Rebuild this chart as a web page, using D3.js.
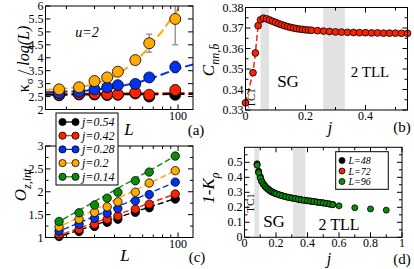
<!DOCTYPE html>
<html><head><meta charset="utf-8">
<script src="https://cdn.jsdelivr.net/npm/d3@7"></script>
<style>
body { margin: 0; background: #fff; }
text { font-family: "Liberation Serif", "Times New Roman", serif; }
</style>
</head><body><div id="container"></div>
<script>
// ---- data ----
var sizesL = [18, 24, 30, 36, 42, 54, 66, 96];

// panel (a): kappa_sigma / log(L)
var kappaBlack  = [2.55, 2.58, 2.58, 2.56, 2.57, 2.62, 2.50, 2.57];
var kappaRed    = [2.57, 2.60, 2.61, 2.59, 2.59, 2.66, 2.57, 2.75];
var kappaBlue   = [2.63, 2.68, 2.78, 2.86, 2.94, 2.99, 3.24, 3.64];
var kappaOrange = [2.78, 2.86, 3.10, 3.24, 3.46, 3.91, 4.56, 5.50];
var errBlack  = [0, 0, 0, 0, 0, 0, 0, 0.12];
var errRed    = [0, 0, 0, 0, 0, 0, 0, 0.2];
var errBlue   = [0, 0, 0, 0, 0, 0, 0.08, 0.22];
var errOrange = [0, 0, 0, 0, 0, 0.08, 0.35, 1.0];
// dashed fits in (a), as [L, value] pairs
var fitBlackA  = [[14.8, 2.57], [124, 2.6]];
var fitRedA    = [[14.8, 2.6], [124, 2.64]];
var fitBlueA   = [[14.8, 2.67], [18, 2.68], [24, 2.71], [30, 2.76], [36, 2.82], [42, 2.88], [54, 3.02], [66, 3.17], [80, 3.36], [96, 3.55], [124, 3.74]];
var fitOrangeA = [[14.8, 2.76], [18, 2.78], [24, 2.86], [30, 2.98], [36, 3.15], [42, 3.35], [54, 3.85], [66, 4.4], [80, 5.05], [96, 5.72], [112, 6.3]];

// panel (c): O_z,int
var ozBlack  = [1.02, 1.13, 1.24, 1.33, 1.40, 1.55, 1.65, 1.84];
var ozRed    = [1.05, 1.18, 1.29, 1.40, 1.47, 1.62, 1.73, 1.95];
var ozBlue   = [1.14, 1.29, 1.42, 1.53, 1.63, 1.80, 1.94, 2.21];
var ozOrange = [1.23, 1.40, 1.55, 1.67, 1.78, 1.99, 2.19, 2.46];
var ozGreen  = [1.35, 1.54, 1.71, 1.86, 1.99, 2.24, 2.43, 2.78];
var fitLimitsC = [17, 96];
var fitBlackC  = [0.99, 1.85];
var fitRedC    = [1.02, 1.95];
var fitBlueC   = [1.10, 2.21];
var fitOrangeC = [1.19, 2.46];
var fitGreenC  = [1.30, 2.78];
var legendJ = ["j=0.54", "j=0.42", "j=0.28", "j=0.2", "j=0.14"];

// panel (b): C_nn,b-bar vs j
var jB = [0, 0.025, 0.033, 0.042, 0.05, 0.06, 0.07, 0.08, 0.09, 0.10, 0.11, 0.12, 0.13, 0.14, 0.15, 0.16, 0.17, 0.18, 0.19, 0.20, 0.21, 0.22,
          0.24, 0.26, 0.28, 0.30, 0.32, 0.34, 0.36, 0.38, 0.40, 0.42, 0.44, 0.46, 0.48, 0.50, 0.52, 0.54];
var cB = [0.3335, 0.3482, 0.3578, 0.3711, 0.3740, 0.3748, 0.3745, 0.3739, 0.3733, 0.3727, 0.3721, 0.3716, 0.3711, 0.3707, 0.3703, 0.3700, 0.3697, 0.3695, 0.3693, 0.3691, 0.3690, 0.3689,
          0.3687, 0.3685, 0.3683, 0.3681, 0.3680, 0.3679, 0.3678, 0.3677, 0.3677, 0.3676, 0.3676, 0.3675, 0.3675, 0.3675, 0.3674, 0.3674];

// panel (d): 1-K_rho vs j
var jD = [0.08, 0.09, 0.10, 0.11, 0.12, 0.13, 0.14, 0.15, 0.16, 0.17, 0.18, 0.19, 0.20, 0.22, 0.24, 0.26, 0.28, 0.30, 0.32, 0.34,
          0.36, 0.38, 0.40, 0.42, 0.44, 0.46, 0.48, 0.50, 0.52, 0.54, 0.56, 0.6, 0.7, 0.8, 0.9];
var kL96 = [0.48, 0.43, 0.395, 0.37, 0.352, 0.34, 0.33, 0.32, 0.312, 0.305, 0.30, 0.295, 0.29, 0.283, 0.277, 0.271, 0.266, 0.262, 0.258, 0.254,
            0.250, 0.247, 0.244, 0.241, 0.238, 0.235, 0.232, 0.229, 0.226, 0.222, 0.218, 0.21, 0.197, 0.189, 0.181];
var jDshort = [0.08, 0.09, 0.10, 0.11, 0.12, 0.13, 0.14, 0.15, 0.16, 0.17, 0.18, 0.19, 0.20, 0.22, 0.24, 0.26, 0.28, 0.30, 0.32, 0.34,
               0.36, 0.38, 0.40, 0.42, 0.44, 0.46, 0.48, 0.50, 0.52, 0.54, 0.56];
var kL48 = [0.49, 0.44, 0.405, 0.375, 0.356, 0.342, 0.331, 0.321, 0.313, 0.306, 0.30, 0.295, 0.29, 0.283, 0.277, 0.271, 0.266, 0.262, 0.258, 0.254,
            0.250, 0.247, 0.244, 0.241, 0.238, 0.235, 0.232, 0.229, 0.226, 0.222, 0.218];
var kL72 = [0.485, 0.435, 0.40, 0.372, 0.354, 0.341, 0.33, 0.32, 0.312, 0.305, 0.30, 0.295, 0.29, 0.283, 0.277, 0.271, 0.266, 0.262, 0.258, 0.254,
            0.250, 0.247, 0.244, 0.241, 0.238, 0.235, 0.232, 0.229, 0.226, 0.222, 0.218];
var legendL = ["L=48", "L=72", "L=96"];

var cBlack = "#000000", cRed = "#ff2200", cBlue = "#0033ee", cOrange = "#ffaa00", cGreen = "#0c8a0c";
var band = "#e2e2e2";

var width = 414, height = 269;
var svg = d3.select('div#container').append('svg')
    .attr('width', width).attr('height', height);

// draw a framed box with inward ticks on all four sides
function frame(g, x, y, xMajor, xMinor, yMajor, yMinor, xFmt, yFmt) {
    var x0 = x.range()[0], x1 = x.range()[1], y0 = y.range()[0], y1 = y.range()[1];
    g.append('rect').attr('x', x0).attr('y', y1).attr('width', x1 - x0).attr('height', y0 - y1)
        .attr('fill', 'none').attr('stroke', '#000').attr('stroke-width', 1);
    function ticks(vals, len, isX, labels, fmt) {
        vals.forEach(function(v) {
            if (isX) {
                var p = x(v);
                g.append('line').attr('x1', p).attr('x2', p).attr('y1', y0).attr('y2', y0 - len).attr('stroke', '#000');
                g.append('line').attr('x1', p).attr('x2', p).attr('y1', y1).attr('y2', y1 + len).attr('stroke', '#000');
                if (labels) g.append('text').attr('x', p).attr('y', y0 + 10).attr('text-anchor', 'middle')
                    .attr('font-size', 12).text(fmt(v));
            } else {
                var q = y(v);
                g.append('line').attr('x1', x0).attr('x2', x0 + len).attr('y1', q).attr('y2', q).attr('stroke', '#000');
                g.append('line').attr('x1', x1).attr('x2', x1 - len).attr('y1', q).attr('y2', q).attr('stroke', '#000');
                if (labels) g.append('text').attr('x', x0 - 2).attr('y', q + 4).attr('text-anchor', 'end')
                    .attr('font-size', 12).text(fmt(v));
            }
        });
    }
    ticks(xMajor, 5, true, true, xFmt);
    ticks(xMinor, 3, true, false);
    ticks(yMajor, 5, false, true, yFmt);
    ticks(yMinor, 3, false, false);
}

function dots(g, x, y, xs, ys, color, r) {
    g.selectAll(null).data(xs).enter().append('circle')
        .attr('cx', function(d) { return x(d); })
        .attr('cy', function(d, i) { return y(ys[i]); })
        .attr('r', r).attr('fill', color).attr('stroke', '#000').attr('stroke-width', 0.8);
}

function dashed(g, x, y, pts, color, w, dash) {
    g.append('path').datum(pts)
        .attr('d', d3.line().x(function(d) { return x(d[0]); }).y(function(d) { return y(d[1]); }))
        .attr('fill', 'none').attr('stroke', color).attr('stroke-width', w).attr('stroke-dasharray', dash);
}

var fmt = function(v) { return String(+v.toFixed(3)); };

// ---------- panel (a) ----------
var xa = d3.scaleLog().domain([14.8, 124]).range([45.5, 193]);
var ya = d3.scaleLinear().domain([2, 6]).range([109.5, 6]);
var ga = svg.append('g');
svg.append('clipPath').attr('id', 'clipa').append('rect')
    .attr('x', 45.5).attr('y', 6).attr('width', 193 - 45.5).attr('height', 109.5 - 6);
var pa = ga.append('g').attr('clip-path', 'url(#clipa)');
[[fitOrangeA, cOrange], [fitBlueA, cBlue], [fitRedA, cRed], [fitBlackA, cBlack]].forEach(function(f) {
    dashed(pa, xa, ya, f[0], f[1], 2, '9,4');
});
[[errOrange, kappaOrange], [errBlue, kappaBlue], [errRed, kappaRed], [errBlack, kappaBlack]].forEach(function(e) {
    sizesL.forEach(function(L, i) {
        if (!e[0][i]) return;
        pa.append('line').attr('x1', xa(L)).attr('x2', xa(L))
            .attr('y1', ya(e[1][i] - e[0][i])).attr('y2', ya(e[1][i] + e[0][i]))
            .attr('stroke', '#999').attr('stroke-width', 1.5);
        [e[1][i] - e[0][i], e[1][i] + e[0][i]].forEach(function(v) {
            pa.append('line').attr('x1', xa(L) - 3).attr('x2', xa(L) + 3).attr('y1', ya(v)).attr('y2', ya(v))
                .attr('stroke', '#999').attr('stroke-width', 1.5);
        });
    });
});
dots(pa, xa, ya, sizesL, kappaBlack, cBlack, 5.5);
dots(pa, xa, ya, sizesL, kappaRed, cRed, 5.5);
dots(pa, xa, ya, sizesL, kappaBlue, cBlue, 5.5);
dots(pa, xa, ya, sizesL, kappaOrange, cOrange, 5.5);
frame(ga, xa, ya, [100], [20, 30, 40, 50, 60, 70, 80, 90], d3.range(2, 6.01, 0.5), [], fmt, fmt);
ga.append('text').attr('x', 87).attr('y', 37).attr('text-anchor', 'middle').attr('font-size', 14)
    .attr('font-style', 'italic').text('u=2');
var yla = ga.append('text').attr('transform', 'translate(29,59) rotate(-90)').attr('text-anchor', 'middle').attr('font-size', 16);
yla.append('tspan').text('κ');
yla.append('tspan').attr('font-size', 11).attr('dy', 4).text('σ');
yla.append('tspan').attr('dy', -4).text(' / ');
yla.append('tspan').attr('font-style', 'italic').text('log(L)');

// ---------- panel (b) ----------
var xb = d3.scaleLinear().domain([0, 0.54]).range([245.5, 407.5]);
var yb = d3.scaleLinear().domain([0.33, 0.38]).range([110, 7.5]);
var gb = svg.append('g');
gb.append('rect').attr('x', xb(0.05)).attr('y', 7.5).attr('width', xb(0.078) - xb(0.05)).attr('height', 102.5).attr('fill', band);
gb.append('rect').attr('x', xb(0.259)).attr('y', 7.5).attr('width', xb(0.331) - xb(0.259)).attr('height', 102.5).attr('fill', band);
dashed(gb, xb, yb, jB.map(function(j, i) { return [j, cB[i]]; }), cRed, 1.5, '6,3');
dots(gb, xb, yb, jB, cB, cRed, 3.4);
frame(gb, xb, yb, [0, 0.2, 0.4], [0.1, 0.3, 0.5], [0.33, 0.34, 0.35, 0.36, 0.37, 0.38],
      [0.335, 0.345, 0.355, 0.365, 0.375], fmt, fmt);
gb.append('text').attr('transform', 'translate(255,98) rotate(-90)').attr('text-anchor', 'middle').attr('font-size', 11).text('TC1');
gb.append('text').attr('x', 288).attr('y', 87).attr('text-anchor', 'middle').attr('font-size', 17).text('SG');
gb.append('text').attr('x', 370).attr('y', 77).attr('text-anchor', 'middle').attr('font-size', 15).text('2 TLL');
gb.append('text').attr('x', 330).attr('y', 133).attr('text-anchor', 'middle').attr('font-size', 16).attr('font-style', 'italic').text('j');
gb.append('text').attr('x', 402).attr('y', 132).attr('text-anchor', 'middle').attr('font-size', 15).text('(b)');
var ylb = gb.append('text').attr('transform', 'translate(214,60) rotate(-90)').attr('text-anchor', 'middle')
    .attr('font-size', 17).attr('font-style', 'italic');
ylb.append('tspan').text('C');
ylb.append('tspan').attr('font-size', 12).attr('dy', 5).text('nn,b\u0304');

// ---------- panel (c) ----------
var xc = d3.scaleLog().domain([14.8, 124]).range([45.5, 193]);
var yc = d3.scaleLinear().domain([1, 3]).range([237.5, 146]);
var gc = svg.append('g');
var seriesC = [[ozBlack, fitBlackC, cBlack], [ozRed, fitRedC, cRed], [ozBlue, fitBlueC, cBlue],
               [ozOrange, fitOrangeC, cOrange], [ozGreen, fitGreenC, cGreen]];
seriesC.forEach(function(s) {
    dashed(gc, xc, yc, [[fitLimitsC[0], s[1][0]], [fitLimitsC[1], s[1][1]]], s[2], 1.4, '6,3');
});
seriesC.forEach(function(s) { dots(gc, xc, yc, sizesL, s[0], s[2], 4.2); });
frame(gc, xc, yc, [100], [20, 30, 40, 50, 60, 70, 80, 90], [1, 1.5, 2, 2.5, 3], [1.25, 1.75, 2.25, 2.75], fmt, fmt);
gc.append('text').attr('x', 125).attr('y', 261).attr('text-anchor', 'middle').attr('font-size', 17).attr('font-style', 'italic').text('L');
gc.append('text').attr('x', 197).attr('y', 262).attr('text-anchor', 'middle').attr('font-size', 15).text('(c)');
var ylc = gc.append('text').attr('transform', 'translate(26,185) rotate(-90)').attr('text-anchor', 'middle')
    .attr('font-size', 17).attr('font-style', 'italic');
ylc.append('tspan').text('O');
ylc.append('tspan').attr('font-size', 12).attr('dy', 5).text('z,int');

// panel (a) x label and tag sit above the legend box
ga.append('text').attr('x', 129).attr('y', 135).attr('text-anchor', 'middle').attr('font-size', 17).attr('font-style', 'italic').text('L');
ga.append('text').attr('x', 196).attr('y', 135).attr('text-anchor', 'middle').attr('font-size', 15).text('(a)');

// legend of (c)
var lg = svg.append('g');
lg.append('rect').attr('x', 56).attr('y', 113).attr('width', 62).attr('height', 72)
    .attr('fill', '#fff').attr('stroke', '#000');
[cBlack, cRed, cBlue, cOrange, cGreen].forEach(function(c, i) {
    var yy = 122 + i * 13.7;
    lg.append('line').attr('x1', 62.5).attr('x2', 75.5).attr('y1', yy).attr('y2', yy).attr('stroke', c).attr('stroke-width', 1.2);
    [62.5, 75.5].forEach(function(xx) {
        lg.append('circle').attr('cx', xx).attr('cy', yy).attr('r', 3.6).attr('fill', c).attr('stroke', '#000').attr('stroke-width', 0.8);
    });
    lg.append('text').attr('x', 82).attr('y', yy + 4).attr('font-size', 12).attr('font-style', 'italic').text(legendJ[i]);
});

// ---------- panel (d) ----------
var xd = d3.scaleLinear().domain([0, 1]).range([244.5, 402]);
var yd = d3.scaleLinear().domain([0, 0.6]).range([237.3, 147.3]);
var gd = svg.append('g');
gd.append('rect').attr('x', xd(0.063)).attr('y', 147.3).attr('width', xd(0.093) - xd(0.063)).attr('height', 90).attr('fill', band);
gd.append('rect').attr('x', xd(0.308)).attr('y', 147.3).attr('width', xd(0.387) - xd(0.308)).attr('height', 90).attr('fill', band);
dots(gd, xd, yd, jDshort, kL48, cBlack, 3);
dots(gd, xd, yd, jDshort, kL72, cRed, 3);
dots(gd, xd, yd, jD, kL96, cGreen, 3);
frame(gd, xd, yd, [0, 0.2, 0.4, 0.6, 0.8, 1], [0.1, 0.3, 0.5, 0.7, 0.9], [0, 0.1, 0.2, 0.3, 0.4, 0.5],
      [0.05, 0.15, 0.25, 0.35, 0.45, 0.55], fmt, fmt);
gd.append('text').attr('transform', 'translate(254,203) rotate(-90)').attr('text-anchor', 'middle').attr('font-size', 11).text('TC1');
gd.append('text').attr('x', 274).attr('y', 227).attr('text-anchor', 'middle').attr('font-size', 17).text('SG');
gd.append('text').attr('x', 339).attr('y', 230).attr('text-anchor', 'middle').attr('font-size', 16).text('2 TLL');
gd.append('text').attr('x', 329).attr('y', 264).attr('text-anchor', 'middle').attr('font-size', 16).attr('font-style', 'italic').text('j');
gd.append('text').attr('x', 402).attr('y', 264).attr('text-anchor', 'middle').attr('font-size', 15).text('(d)');
var yld = gd.append('text').attr('transform', 'translate(214,188) rotate(-90)').attr('text-anchor', 'middle')
    .attr('font-size', 17).attr('font-style', 'italic');
yld.append('tspan').text('1-K');
yld.append('tspan').attr('font-size', 12).attr('dy', 5).text('ρ');
var ld = gd.append('g');
ld.append('rect').attr('x', 335.7).attr('y', 151.7).attr('width', 52.6).attr('height', 37.6).attr('fill', '#fff').attr('stroke', '#000');
[cBlack, cRed, cGreen].forEach(function(c, i) {
    var yy = 160.5 + i * 10.5;
    ld.append('circle').attr('cx', 342).attr('cy', yy).attr('r', 3).attr('fill', c).attr('stroke', '#000').attr('stroke-width', 0.8);
    ld.append('text').attr('x', 348.5).attr('y', yy + 3.5).attr('font-size', 10).attr('font-style', 'italic').text(legendL[i]);
});
</script>
</body></html>
